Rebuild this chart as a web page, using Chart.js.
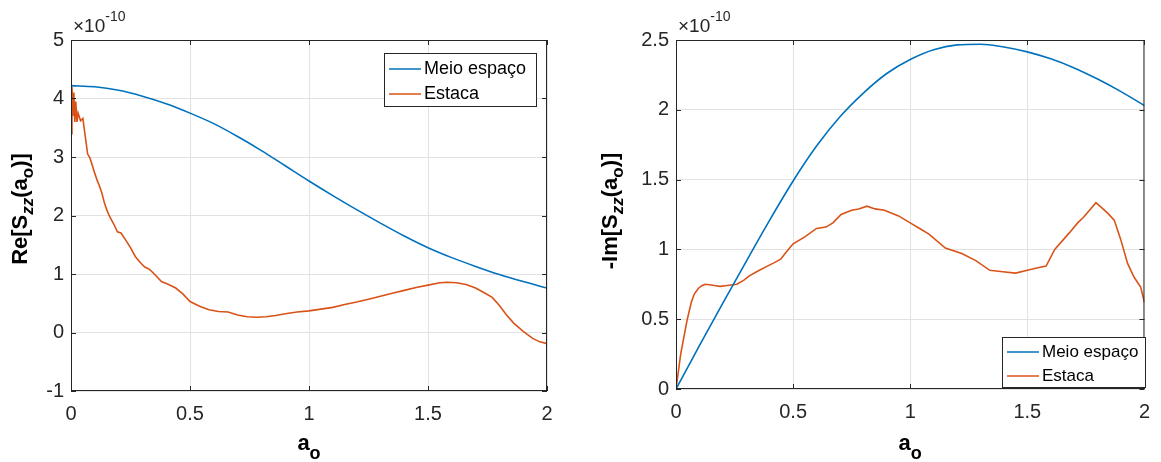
<!DOCTYPE html>
<html>
<head>
<meta charset="utf-8">
<script src="https://cdn.jsdelivr.net/npm/chart.js@4.4.1/dist/chart.umd.min.js"></script>
<style>
  body { margin: 0; background: #fff; }
  .wrap { position: absolute; top: 0; }
</style>
</head>
<body>
<div class="wrap" style="left:0"><canvas id="chartRe" width="580" height="462"></canvas></div>
<div class="wrap" style="left:580px"><canvas id="chartIm" width="581" height="462"></canvas></div>
<script>
/* [ Data ]  all values in units of 1e-10 */
const aGrid = [0, 0.1, 0.2, 0.3, 0.4, 0.5, 0.6, 0.7, 0.8, 0.9, 1.0, 1.1, 1.2, 1.3, 1.4, 1.5, 1.6, 1.7, 1.8, 1.9, 2.0];
const reMeio = [4.22, 4.20, 4.14, 4.04, 3.91, 3.75, 3.57, 3.35, 3.11, 2.85, 2.59, 2.34, 2.10, 1.87, 1.65, 1.45, 1.28, 1.13, 0.99, 0.87, 0.76];
const imMeio = [0, 0.31, 0.615, 0.915, 1.21, 1.49, 1.74, 1.95, 2.12, 2.26, 2.36, 2.43, 2.465, 2.47, 2.45, 2.415, 2.365, 2.30, 2.22, 2.13, 2.03];

const reEstacaX = [0, 0.004, 0.008, 0.012, 0.016, 0.02, 0.025, 0.03, 0.04, 0.05, 0.06, 0.07, 0.08, 0.09, 0.1, 0.11, 0.12, 0.13, 0.14, 0.15, 0.16, 0.18, 0.195, 0.21, 0.23, 0.25, 0.27, 0.29, 0.31, 0.33, 0.35, 0.38, 0.41, 0.44, 0.47, 0.5, 0.54, 0.58, 0.62, 0.66, 0.7, 0.74, 0.78, 0.82, 0.86, 0.9, 0.95, 1.0, 1.05, 1.1, 1.15, 1.2, 1.25, 1.3, 1.35, 1.4, 1.45, 1.5, 1.55, 1.58, 1.62, 1.66, 1.7, 1.74, 1.77, 1.8, 1.83, 1.86, 1.9, 1.94, 1.97, 2.0];
const reEstacaY = [3.40, 4.20, 3.70, 4.10, 3.60, 3.95, 3.60, 3.75, 3.62, 3.66, 3.35, 3.05, 2.98, 2.85, 2.72, 2.60, 2.50, 2.38, 2.22, 2.10, 2.00, 1.85, 1.72, 1.70, 1.58, 1.45, 1.30, 1.20, 1.12, 1.08, 1.00, 0.87, 0.82, 0.76, 0.66, 0.53, 0.45, 0.39, 0.36, 0.35, 0.30, 0.27, 0.26, 0.27, 0.29, 0.32, 0.35, 0.37, 0.40, 0.43, 0.48, 0.52, 0.57, 0.62, 0.67, 0.72, 0.77, 0.81, 0.85, 0.86, 0.85, 0.82, 0.76, 0.67, 0.60, 0.46, 0.30, 0.16, 0.02, -0.10, -0.16, -0.19];

const imEstacaX = [0, 0.02, 0.047, 0.065, 0.078, 0.095, 0.11, 0.125, 0.15, 0.17, 0.188, 0.21, 0.235, 0.26, 0.29, 0.313, 0.35, 0.39, 0.42, 0.447, 0.47, 0.5, 0.55, 0.6, 0.64, 0.67, 0.705, 0.75, 0.78, 0.815, 0.85, 0.89, 0.95, 1.0, 1.04, 1.08, 1.15, 1.22, 1.28, 1.34, 1.395, 1.45, 1.5, 1.55, 1.58, 1.617, 1.68, 1.715, 1.74, 1.793, 1.81, 1.843, 1.871, 1.899, 1.928, 1.956, 1.984, 2.0];
const imEstacaY = [0, 0.25, 0.49, 0.62, 0.68, 0.72, 0.74, 0.75, 0.745, 0.74, 0.735, 0.74, 0.745, 0.75, 0.78, 0.81, 0.845, 0.88, 0.905, 0.93, 0.98, 1.04, 1.09, 1.15, 1.16, 1.19, 1.25, 1.28, 1.29, 1.31, 1.29, 1.28, 1.24, 1.19, 1.15, 1.11, 1.01, 0.97, 0.92, 0.85, 0.84, 0.83, 0.85, 0.87, 0.88, 1.0, 1.12, 1.19, 1.23, 1.335, 1.31, 1.26, 1.21, 1.07, 0.90, 0.80, 0.73, 0.62];

const xTicks = [0, 0.5, 1, 1.5, 2];
const reTicks = [-1, 0, 1, 2, 3, 4, 5];
const imTicks = [0, 0.5, 1, 1.5, 2, 2.5];
const seriesNames = ['Meio espaço', 'Estaca'];
const colors = ['#0072BD', '#D95319'];

const FAMILY = '"Liberation Sans", Arial, Helvetica, sans-serif';
const AXIS = '#262626';

function pts(xs, ys) {
    return xs.map((x, i) => ({ x: x, y: ys[i] }));
}

/* draws text pieces with sub/superscripts, centred on (x, y) */
function richText(ctx, parts, x, y, rotate) {
    ctx.save();
    ctx.translate(x, y);
    if (rotate) ctx.rotate(-Math.PI / 2);
    ctx.textAlign = 'left';
    ctx.textBaseline = 'alphabetic';
    var w = 0;
    parts.forEach(p => { ctx.font = p.font; w += ctx.measureText(p.t).width; });
    var cx = -w / 2;
    parts.forEach(p => {
        ctx.font = p.font;
        ctx.fillText(p.t, cx, p.dy || 0);
        cx += ctx.measureText(p.t).width;
    });
    ctx.restore();
}

/* [ MATLAB style box, ticks, labels, legend ] */
const matlabAxes = {
    id: 'matlabAxes',
    afterDraw(chart, args, o) {
        const ctx = chart.ctx;
        const a = chart.chartArea;
        const xs = chart.scales.x, ys = chart.scales.y;
        ctx.save();
        ctx.strokeStyle = AXIS;
        ctx.lineWidth = 1;
        ctx.strokeRect(a.left + 0.5, a.top + 0.5, a.right - a.left - 1, a.bottom - a.top - 1);
        ctx.beginPath();
        xs.ticks.forEach(t => {
            const px = Math.round(xs.getPixelForValue(t.value)) + 0.5;
            ctx.moveTo(px, a.bottom); ctx.lineTo(px, a.bottom - 5);
            ctx.moveTo(px, a.top); ctx.lineTo(px, a.top + 5);
        });
        ys.ticks.forEach(t => {
            const py = Math.round(ys.getPixelForValue(t.value)) + 0.5;
            ctx.moveTo(a.left, py); ctx.lineTo(a.left + 5, py);
            ctx.moveTo(a.right, py); ctx.lineTo(a.right - 5, py);
        });
        ctx.stroke();

        // exponent
        ctx.fillStyle = AXIS;
        ctx.font = '19px ' + FAMILY;
        ctx.textBaseline = 'alphabetic';
        ctx.fillText('\u00d710', a.left + 2, 32);
        const w = ctx.measureText('\u00d710').width;
        ctx.font = '14px ' + FAMILY;
        ctx.fillText('-10', a.left + 2 + w, 21);

        // axis titles
        ctx.fillStyle = '#000';
        const b = 'bold 22px ' + FAMILY, bs = 'bold 17px ' + FAMILY, bi = 'italic bold 17px ' + FAMILY;
        richText(ctx, [
            { t: 'a', font: b },
            { t: 'o', font: 'bold 18px ' + FAMILY, dy: 9 }
        ], (a.left + a.right) / 2, 450, false);
        richText(ctx, [
            { t: o.yTitle, font: b },
            { t: 'zz', font: bi, dy: 6 },
            { t: '(a', font: b },
            { t: 'o', font: bs, dy: 6 },
            { t: ')]', font: b }
        ], o.yTitleX, o.yTitleY, true);

        // legend
        const L = o.legend;
        ctx.fillStyle = '#fff';
        ctx.fillRect(L.x, L.y, L.w, L.h);
        ctx.strokeStyle = AXIS;
        ctx.lineWidth = 1;
        ctx.strokeRect(L.x + 0.5, L.y + 0.5, L.w, L.h);
        ctx.font = L.size + 'px ' + FAMILY;
        ctx.textBaseline = 'middle';
        seriesNames.forEach((name, i) => {
            const y = L.y + L.row0 + i * L.gap;
            ctx.strokeStyle = colors[i];
            ctx.lineWidth = 1.5;
            ctx.beginPath();
            ctx.moveTo(L.x + 5, y); ctx.lineTo(L.x + 37, y);
            ctx.stroke();
            ctx.fillStyle = '#000';
            ctx.fillText(name, L.x + 40, y);
        });
        ctx.restore();
    }
};

function makeChart(id, cfg) {
    return new Chart(document.getElementById(id), {
        type: 'line',
        data: {
            datasets: [
                {
                    label: seriesNames[0],
                    data: pts(aGrid, cfg.meio),
                    borderColor: colors[0],
                    borderWidth: 1.6,
                    pointRadius: 0,
                    cubicInterpolationMode: 'monotone'
                },
                {
                    label: seriesNames[1],
                    data: pts(cfg.estX, cfg.estY),
                    borderColor: colors[1],
                    borderWidth: 1.6,
                    pointRadius: 0,
                    tension: 0
                }
            ]
        },
        options: {
            responsive: false,
            animation: false,
            layout: { padding: { top: 40, right: cfg.padR, left: 0, bottom: 0 } },
            scales: {
                x: {
                    type: 'linear', min: 0, max: 2,
                    afterBuildTicks: s => { s.ticks = xTicks.map(v => ({ value: v })); },
                    afterFit: s => { s.height = cfg.xh; },
                    grid: { color: '#e2e2e2', drawTicks: false },
                    border: { display: false },
                    ticks: { padding: 11, color: AXIS, maxRotation: 0, autoSkip: false,
                             font: { size: 20, family: FAMILY }, callback: v => String(v) }
                },
                y: {
                    type: 'linear', min: cfg.yTicks[0], max: cfg.yTicks[cfg.yTicks.length - 1],
                    afterBuildTicks: s => { s.ticks = cfg.yTicks.map(v => ({ value: v })); },
                    afterFit: s => { s.width = cfg.yw; },
                    grid: { color: '#e2e2e2', drawTicks: false },
                    border: { display: false },
                    ticks: { padding: 7, color: AXIS, autoSkip: false,
                             font: { size: 20, family: FAMILY }, callback: v => String(v) }
                }
            },
            plugins: {
                legend: { display: false },
                tooltip: { enabled: false },
                matlabAxes: cfg.axes
            }
        },
        plugins: [matlabAxes]
    });
}

let chartRe = makeChart('chartRe', {
    meio: reMeio, estX: reEstacaX, estY: reEstacaY, yTicks: reTicks,
    padR: 33, xh: 71, yw: 71,
    axes: { yTitle: 'Re[S', yTitleX: 27, yTitleY: 209,
            legend: { x: 384, y: 53, w: 152, h: 53, row0: 16, gap: 25, size: 18 } }
});

let chartIm = makeChart('chartIm', {
    meio: imMeio, estX: imEstacaX, estY: imEstacaY, yTicks: imTicks,
    padR: 14, xh: 73, yw: 96,
    axes: { yTitle: '-Im[S', yTitleX: 37, yTitleY: 211,
            legend: { x: 422, y: 337, w: 143, h: 50, row0: 15, gap: 24, size: 17 } }
});
</script>
</body>
</html>
